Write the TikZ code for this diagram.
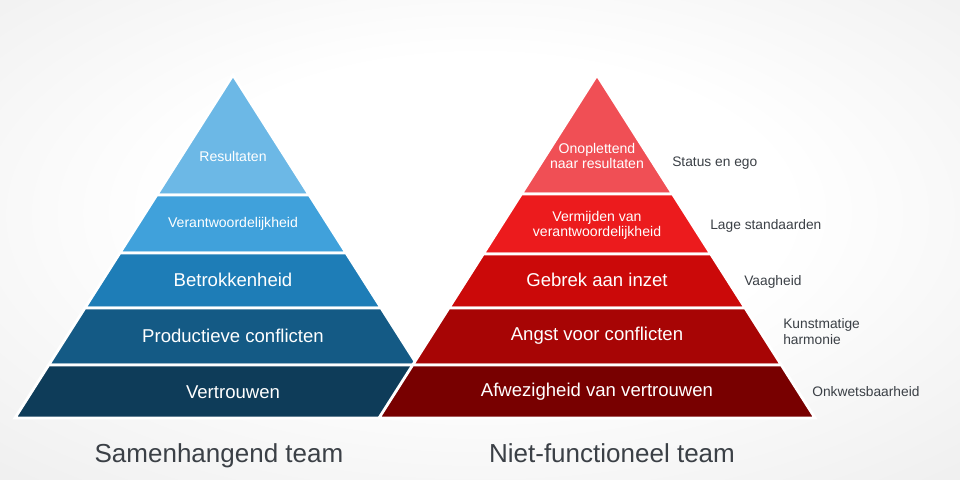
\documentclass[tikz,border=0pt]{standalone}
\usepackage{fontspec}
\setmainfont{Liberation Sans}
\usetikzlibrary{positioning}
\definecolor{slate}{HTML}{3B4046}
\definecolor{blueA}{HTML}{6CB8E6}
\definecolor{blueB}{HTML}{40A1DB}
\definecolor{blueC}{HTML}{1E7DB7}
\definecolor{blueD}{HTML}{145A85}
\definecolor{blueE}{HTML}{0E3C59}
\definecolor{redA}{HTML}{F04F55}
\definecolor{redB}{HTML}{EC1B1D}
\definecolor{redC}{HTML}{CB0909}
\definecolor{redD}{HTML}{A70505}
\definecolor{redE}{HTML}{780000}
\pgfdeclareradialshading{backdrop}{\pgfpoint{0bp}{4bp}}{%
  color(0bp)=(white); color(16bp)=(white); color(45bp)=(gray!17); color(72bp)=(gray!28)}
\newcommand{\PyrTop}{75}
\newcommand{\Slope}{0.6356}
\newcommand{\LeftX}{233}
\newcommand{\RightX}{597}

\begin{document}
\begin{tikzpicture}[x=0.025cm, y=-0.025cm,
    tier/.style={draw=white, line width=2pt},
    layer/.style={text=white, align=center, inner sep=0pt, font=\fontsize{13.2}{15}\selectfont},
    thin/.style={layer, font=\fontsize{10}{10.8}\selectfont},
    note/.style={text=slate, anchor=west, align=left, inner sep=0pt, font=\fontsize{9.8}{11.4}\selectfont},
    caption/.style={text=slate, anchor=base, inner sep=0pt, font=\fontsize{18.5}{20}\selectfont},
  ]
% --- Background ------------------------------------------------------------------
\shade[shading=backdrop] (0,0) rectangle (960,480);

% --- Cohesive team (blue) ---------------------------------------------------------
\foreach \ya/\yb/\col in {75/195/blueA, 195/253/blueB, 253/308/blueC, 308/365/blueD, 365/418/blueE}
  \filldraw[tier, fill=\col] ({\LeftX-\Slope*(\ya-\PyrTop)},\ya) -- ({\LeftX+\Slope*(\ya-\PyrTop)},\ya)
    -- ({\LeftX+\Slope*(\yb-\PyrTop)},\yb) -- ({\LeftX-\Slope*(\yb-\PyrTop)},\yb) -- cycle;

% --- Dysfunctional team (red), laid over the blue one -----------------------------
\foreach \ya/\yb/\col in {75/194/redA, 194/254/redB, 254/308/redC, 308/365/redD, 365/418/redE}
  \filldraw[tier, fill=\col] ({\RightX-\Slope*(\ya-\PyrTop)},\ya) -- ({\RightX+\Slope*(\ya-\PyrTop)},\ya)
    -- ({\RightX+\Slope*(\yb-\PyrTop)},\yb) -- ({\RightX-\Slope*(\yb-\PyrTop)},\yb) -- cycle;

% --- Tier labels ---------------------------------------------------------------------
\node[thin]  (b-results) at (\LeftX,156) {Resultaten};
\node[thin]  (b-account) at (\LeftX,224) {Verantwoordelijkheid};
\node[layer] (b-commit)  at (\LeftX,280) {Betrokkenheid};
\node[layer] (b-conflict) at (\LeftX,336) {Productieve conflicten};
\node[layer] (b-trust)   at (\LeftX,392) {Vertrouwen};

\node[thin]  (r-results) at (\RightX,156) {Onoplettend\\naar resultaten};
\node[thin]  (r-account) at (\RightX,225) {Vermijden van\\verantwoordelijkheid};
\node[layer] (r-commit)  at (\RightX,280) {Gebrek aan inzet};
\node[layer] (r-conflict) at (\RightX,336) {Angst voor conflicten};
\node[layer] (r-trust)   at (\RightX,392) {Afwezigheid van vertrouwen};

% --- Symptoms beside the red pyramid -------------------------------------------------
\node[note] (ego)      at (672,163) {Status en ego};
\node[note] (standard) at (710,226) {Lage standaarden};
\node[note] (vague)    at (744,282) {Vaagheid};
\node[note] (harmony)  at (783,332) {Kunstmatige\\harmonie};
\node[note] (invuln)   at (812,392) {Onkwetsbaarheid};

% --- Captions --------------------------------------------------------------------------
\node[caption] (cohesive) at (219,462) {Samenhangend team};
\node[caption] (broken)   at (612,462) {Niet-functioneel team};
\end{tikzpicture}
\end{document}
